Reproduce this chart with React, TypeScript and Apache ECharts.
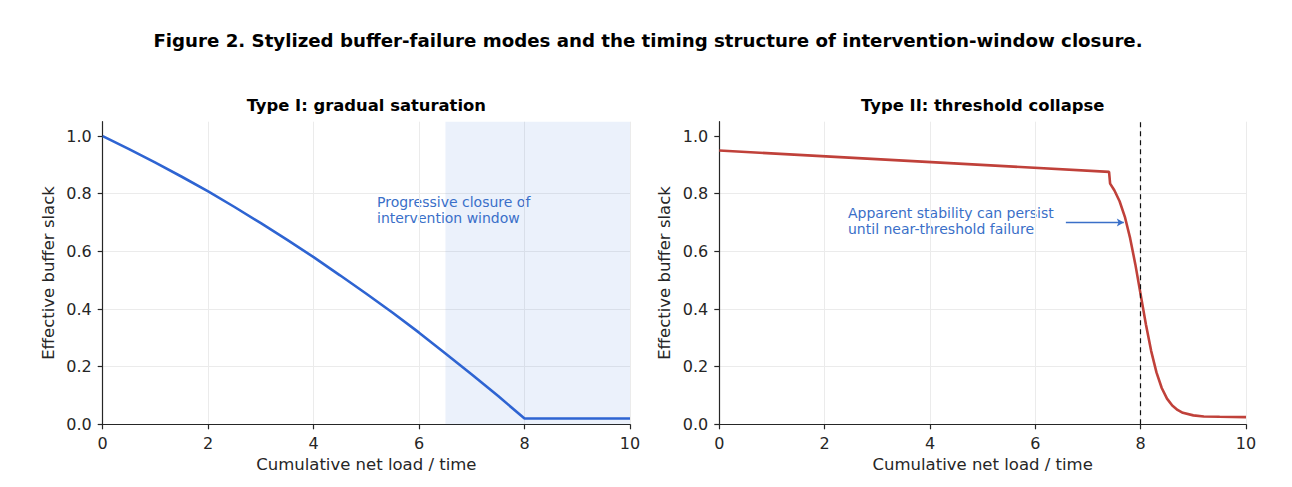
import React, { useEffect, useRef } from "react";
import * as echarts from "echarts";

// Type I: gradual saturation
const typeIX = [0, 0.5, 1, 1.5, 2, 2.5, 3, 3.5, 4, 4.5, 5, 5.5, 6, 6.5, 7, 7.5, 8, 9, 10];
const typeIY = [1.0, 0.955, 0.908, 0.859, 0.808, 0.754, 0.698, 0.64, 0.58, 0.517, 0.453, 0.387, 0.318, 0.246, 0.173, 0.098, 0.02, 0.02, 0.02];

// Type II: threshold collapse
const typeIIX = [0, 7.4, 7.42, 7.5, 7.6, 7.7, 7.8, 7.9, 8.0, 8.1, 8.2, 8.3, 8.4, 8.5, 8.6, 8.7, 8.8, 9.0, 9.2, 9.5, 10];
const typeIIY = [0.95, 0.876, 0.835, 0.812, 0.774, 0.72, 0.646, 0.554, 0.45, 0.346, 0.254, 0.18, 0.126, 0.089, 0.065, 0.05, 0.04, 0.031, 0.027, 0.026, 0.025];

const yTicks = [0, 0.2, 0.4, 0.6, 0.8, 1.0];
const windowStart = 6.5;
const windowEnd = 10;
const threshold = 8;
const arrowFrom = [6.58, 0.7];
const arrowTo = [7.68, 0.7];

const FONT = "DejaVu Sans";

export default function App() {
  const ref = useRef<HTMLDivElement>(null);
  useEffect(() => {
    if (!ref.current) return;
    const chart = echarts.init(ref.current, null, { renderer: "svg" });
    const mkX = (gi: number) => ({
      type: "value",
      gridIndex: gi,
      min: 0,
      max: 10,
      interval: 2,
      name: "Cumulative net load / time",
      nameLocation: "middle",
      nameGap: 32,
      nameTextStyle: { fontFamily: FONT, fontSize: 16.5, color: "#262626" },
      axisLine: { show: true, onZero: false, lineStyle: { color: "#262626", width: 1.2 } },
      axisTick: { show: true, length: 5, lineStyle: { color: "#262626", width: 1.2 } },
      axisLabel: { fontFamily: FONT, fontSize: 16, color: "#262626", margin: 11 },
      splitLine: { show: true, lineStyle: { color: "#ebebeb", width: 1 } },
    });
    const mkY = (gi: number) => ({
      type: "value",
      gridIndex: gi,
      min: 0,
      max: 1.05,
      interval: 0.2,
      name: "Effective buffer slack",
      nameLocation: "middle",
      nameGap: 46,
      nameTextStyle: { fontFamily: FONT, fontSize: 16.5, color: "#262626" },
      axisLine: { show: true, lineStyle: { color: "#262626", width: 1.2 } },
      axisTick: { show: true, length: 5, customValues: yTicks, lineStyle: { color: "#262626", width: 1.2 } },
      axisLabel: {
        fontFamily: FONT,
        fontSize: 16,
        color: "#262626",
        margin: 11,
        customValues: yTicks,
        formatter: (v: number) => v.toFixed(1),
      },
      splitLine: { show: true, showMaxLine: false, lineStyle: { color: "#ebebeb", width: 1 } },
    });
    const option = {
      animation: false,
      backgroundColor: "#ffffff",
      grid: [
        { left: 102.7, top: 121.7, width: 527.3, height: 302.6 },
        { left: 719.3, top: 121.7, width: 526.7, height: 302.6 },
      ],
      xAxis: [mkX(0), mkX(1)],
      yAxis: [mkY(0), mkY(1)],
      graphic: [
        {
          type: "text",
          x: 648,
          y: 40,
          style: {
            text: "Figure 2. Stylized buffer-failure modes and the timing structure of intervention-window closure.",
            fontFamily: FONT,
            fontWeight: "bold",
            fontSize: 18.2,
            fill: "#000",
            align: "center",
            verticalAlign: "middle",
          },
        },
        {
          type: "text",
          x: 366.3,
          y: 105,
          style: {
            text: "Type I: gradual saturation",
            fontFamily: FONT,
            fontWeight: "bold",
            fontSize: 16.4,
            fill: "#000",
            align: "center",
            verticalAlign: "middle",
          },
        },
        {
          type: "text",
          x: 982.7,
          y: 105,
          style: {
            text: "Type II: threshold collapse",
            fontFamily: FONT,
            fontWeight: "bold",
            fontSize: 16.4,
            fill: "#000",
            align: "center",
            verticalAlign: "middle",
          },
        },
        {
          type: "text",
          x: 377,
          y: 194,
          style: {
            text: "Progressive closure of\nintervention window",
            fontFamily: FONT,
            fontSize: 14,
            lineHeight: 16,
            fill: "#3a6fc8",
          },
        },
        {
          type: "text",
          x: 848,
          y: 205,
          style: {
            text: "Apparent stability can persist\nuntil near-threshold failure",
            fontFamily: FONT,
            fontSize: 14,
            lineHeight: 16,
            fill: "#3a6fc8",
          },
        },
      ],
      series: [
        {
          type: "line",
          xAxisIndex: 0,
          yAxisIndex: 0,
          data: typeIX.map((x, i) => [x, typeIY[i]]),
          showSymbol: false,
          lineStyle: { color: "#2e64d2", width: 2.6 },
          markArea: {
            silent: true,
            itemStyle: { color: "rgba(60,120,215,0.10)" },
            data: [[{ xAxis: windowStart, yAxis: 0 }, { xAxis: windowEnd, yAxis: 1.05 }]],
          },
        },
        {
          type: "line",
          xAxisIndex: 1,
          yAxisIndex: 1,
          data: typeIIX.map((x, i) => [x, typeIIY[i]]),
          showSymbol: false,
          lineStyle: { color: "#c0413a", width: 2.6 },
          markLine: {
            silent: true,
            symbol: "none",
            label: { show: false },
            data: [
              { xAxis: threshold, lineStyle: { color: "#111", type: [5, 4], width: 1.2 } },
              [
                { coord: arrowFrom, symbol: "none", lineStyle: { color: "#3a6fc8", type: "solid", width: 1.3 } },
                { coord: arrowTo, symbol: "arrow", symbolSize: [6, 7] },
              ],
            ],
          },
        },
      ],
    };
    chart.setOption(option as any);
    return () => chart.dispose();
  }, []);
  return <div ref={ref} style={{ position: "fixed", left: 0, top: 0, width: 1292, height: 487 }} />;
}
